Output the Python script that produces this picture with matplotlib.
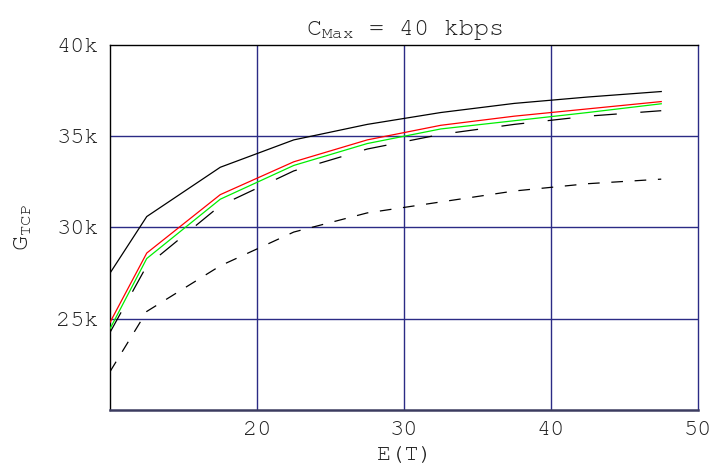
import matplotlib
matplotlib.use("Agg")
import matplotlib.pyplot as plt
from matplotlib import font_manager as fm
from matplotlib.ticker import FuncFormatter

# E(T) sample points and G_TCP curves (kbps)
x = [10, 12.5, 17.5, 22.5, 27.5, 32.5, 37.5, 42.5, 47.5]
g_black = [27500, 30600, 33300, 34800, 35650, 36300, 36800, 37150, 37450]
g_red = [24800, 28600, 31800, 33600, 34800, 35600, 36100, 36500, 36900]
g_green = [24450, 28300, 31550, 33400, 34600, 35400, 35850, 36300, 36780]
g_longdash = [24250, 27900, 31200, 33100, 34300, 35100, 35650, 36100, 36400]
g_shortdash = [22100, 25400, 27900, 29750, 30800, 31400, 32000, 32400, 32650]

xticks = [20, 30, 40, 50]
yticks = [25000, 30000, 35000, 40000]

mono = ["Courier New", "Nimbus Mono PS", "FreeMono", "Liberation Mono"]
plt.rcParams["font.family"] = mono
# use the same resolved monospace face for the subscripts
mono_name = fm.FontProperties(fname=fm.findfont(fm.FontProperties(family=mono))).get_name()
plt.rcParams["lines.scale_dashes"] = False
plt.rcParams["mathtext.fontset"] = "custom"
plt.rcParams["mathtext.rm"] = mono_name
plt.rcParams["mathtext.it"] = mono_name

fig = plt.figure(figsize=(7.17, 4.74), dpi=100)
ax = fig.add_axes([110 / 717, 64 / 474, 588 / 717, 365 / 474])

grid_c = "#2b2b85"
for v in xticks[:-1]:
    ax.axvline(v, color=grid_c, lw=1.0, zorder=1)
for v in yticks[:-1]:
    ax.axhline(v, color=grid_c, lw=1.0, zorder=1)

lw = 0.9
ax.plot(x, g_shortdash, color="black", lw=lw, dashes=(8.4, 8.4), zorder=3)
ax.plot(x, g_longdash, color="black", lw=lw, dashes=(16.5, 17), zorder=3)
ax.plot(x, g_green, color="#00ee00", lw=lw, zorder=3)
ax.plot(x, g_red, color="#ff0000", lw=lw, zorder=3)
ax.plot(x, g_black, color="black", lw=lw, zorder=3)

ax.set_xlim(10, 50)
ax.set_ylim(20000, 40000)
ax.set_xticks(xticks)
ax.set_yticks(yticks)
ax.yaxis.set_major_formatter(FuncFormatter(lambda v, p: f"{int(v / 1000)}k"))
ax.tick_params(length=0, labelsize=17, pad=8, colors="#222222")

for s in ["top", "left"]:
    ax.spines[s].set_color("black")
    ax.spines[s].set_linewidth(1.0)
ax.spines["right"].set_color(grid_c)
ax.spines["right"].set_linewidth(1.0)
ax.spines["bottom"].set_color("#3c3c60")
ax.spines["bottom"].set_linewidth(1.8)

ax.set_title(r"C$_{\mathrm{Max}}$ = 40 kbps", fontsize=18, pad=7, color="#222222")
ax.set_xlabel("E(T)", fontsize=17, labelpad=5, color="#222222")
ax.set_ylabel(r"G$_{\mathrm{TCP}}$", fontsize=18, labelpad=16, color="#222222")

fig.savefig("out.png", dpi=100)
